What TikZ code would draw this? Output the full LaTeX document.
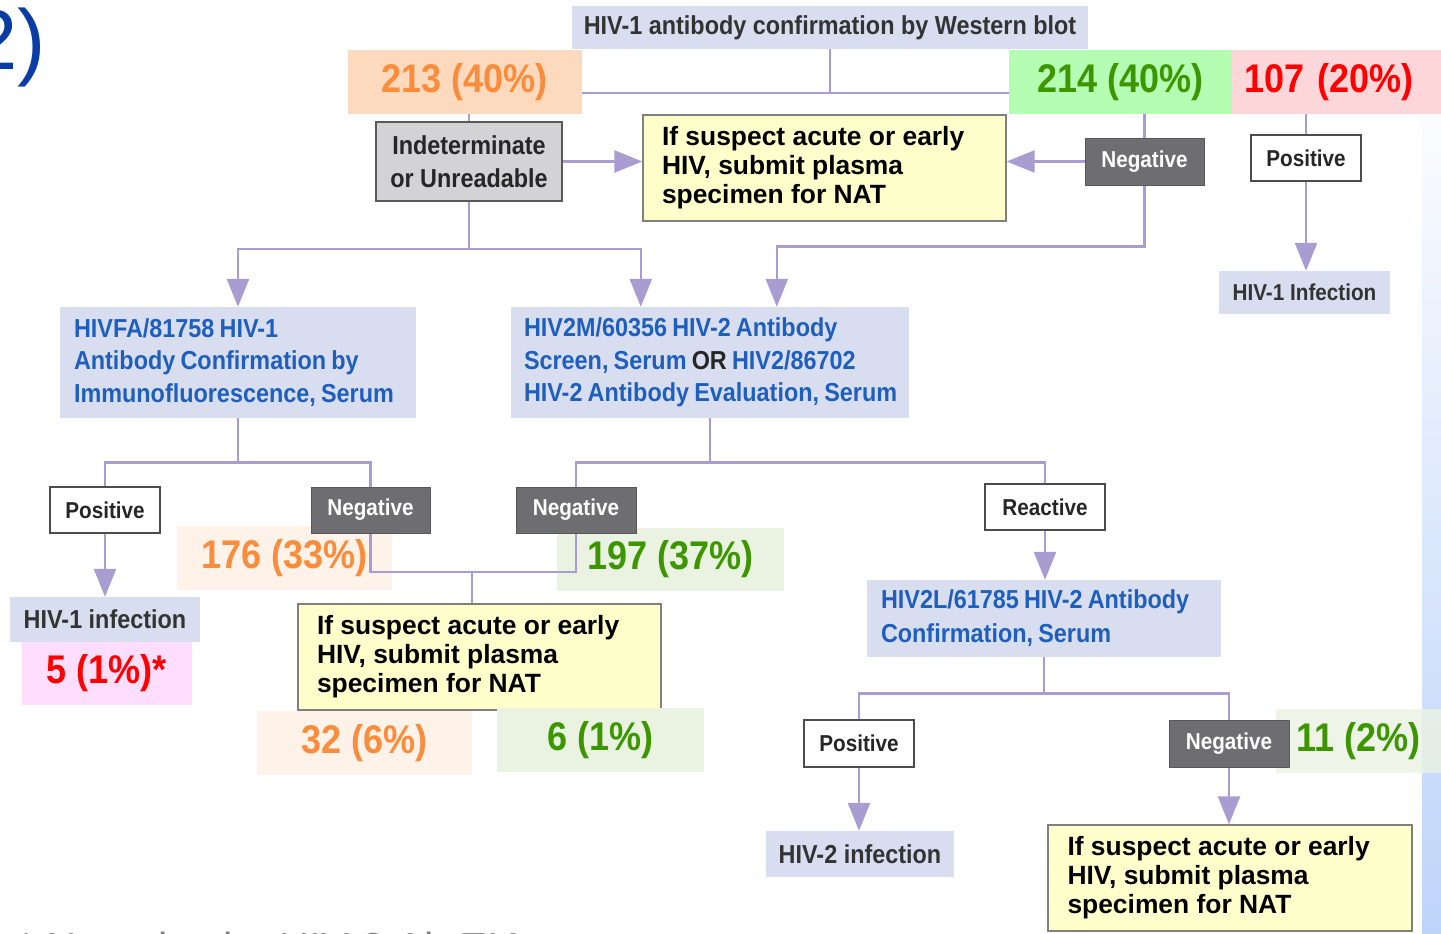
\documentclass[tikz,border=0pt]{standalone}
\usepackage{fontspec}
\setmainfont{Liberation Sans}
\newfontfamily\labelfont[FakeStretch=0.9, WordSpace=0.7]{Liberation Sans}
\newfontfamily\countfont[FakeStretch=0.9]{Liberation Sans}
\usetikzlibrary{arrows.meta, positioning, backgrounds}

\definecolor{lineviolet}{RGB}{168,156,208}
\definecolor{boxblue}{RGB}{216,222,240}
\definecolor{testblue}{RGB}{30,95,190}
\definecolor{neggray}{RGB}{110,110,114}
\definecolor{indgray}{RGB}{211,211,213}
\definecolor{natyellow}{RGB}{255,255,204}
\definecolor{natborder}{RGB}{128,128,128}
\definecolor{peachA}{RGB}{253,218,190}
\definecolor{peachB}{RGB}{255,242,232}
\definecolor{orangeT}{RGB}{250,140,60}
\definecolor{greenA}{RGB}{182,253,180}
\definecolor{greenB}{RGB}{234,243,226}
\definecolor{greenT}{RGB}{60,150,0}
\definecolor{pinkA}{RGB}{253,214,218}
\definecolor{pinkB}{RGB}{255,221,253}
\definecolor{redT}{RGB}{255,0,0}
\definecolor{titleblue}{RGB}{10,60,165}
\definecolor{stripeblue}{RGB}{190,212,250}

\begin{document}
\begin{tikzpicture}[
    x=1pt, y=-1pt,
    testbox/.style={
        fill=boxblue, text=testblue,
        align=left, inner xsep=14pt, inner ysep=0pt,
        font=\labelfont\bfseries\fontsize{26}{32.5}\selectfont,
        execute at begin node={\spaceskip=0.2em\xspaceskip=0.2em\relax}
    },
    resultbox/.style={
        fill=boxblue, text=black!80, inner sep=0pt,
        font=\labelfont\bfseries\fontsize{26}{30}\selectfont
    },
    posbox/.style={
        draw=black!70, line width=1.6pt, fill=white, text=black!85,
        inner sep=0pt,
        font=\labelfont\bfseries\fontsize{23}{28}\selectfont
    },
    negbox/.style={
        draw=neggray!80!black, line width=1pt, fill=neggray, text=white,
        inner sep=0pt,
        font=\labelfont\bfseries\fontsize{23}{28}\selectfont
    },
    natbox/.style={
        draw=natborder, line width=1.4pt, fill=natyellow,
        align=left, inner xsep=19pt, inner ysep=0pt, text width=325pt,
        font=\bfseries\fontsize{26.4}{29}\selectfont,
        execute at begin node={\spaceskip=0.278em\xspaceskip=0.278em\relax}
    },
    count/.style={inner sep=0pt, font=\countfont\bfseries\fontsize{40}{40}\selectfont},
    conn/.style={draw=lineviolet, line width=2.6pt},
    arrow/.style={conn, -{Triangle[length=28pt, width=22pt]}},
]
\useasboundingbox (0,0) rectangle (1441,934);

% Titolo e nota
\node[font=\fontsize{85}{85}\selectfont, text=titleblue, anchor=base east, inner sep=0pt]
    (part) at (46,70) {2)};
\node[font=\fontsize{42}{42}\selectfont, text=black!50, anchor=base west, inner sep=0pt]
    (foot) at (18,962) {* Negative by HIV-2 Ab EIA};

% Western blot
\node[resultbox, minimum width=516pt, minimum height=43pt] (wb) at (830,27.5)
    {HIV-1 antibody confirmation by Western blot};
\node[count, fill=peachA, text=orangeT, minimum width=234pt, minimum height=64pt]
    (c213) at (465,82) {213 (40\%)};
\node[count, fill=greenA, text=greenT, minimum width=223pt, minimum height=64pt]
    (c214) at (1120.5,82) {214 (40\%)};
\node[count, fill=pinkA, text=redT, minimum width=209pt, minimum height=64pt,
      inner xsep=12pt, text width=185pt, align=left]
    (c107) at (1336.5,82) {107 (20\%)};

\node[draw=black!65, line width=1.8pt, fill=indgray, text=black!85, align=center,
      inner sep=0pt, minimum width=186pt, minimum height=79pt,
      font=\labelfont\bfseries\fontsize{26}{33}\selectfont]
    (ind) at (469,161.5) {Indeterminate\\or Unreadable};
\node[natbox, minimum width=363pt, minimum height=106pt] (nat1) at (824.5,168)
    {If suspect acute or early\\HIV, submit plasma\\specimen for NAT};
\node[negbox, minimum width=119pt, minimum height=47pt] (neg1) at (1144.5,161.5) {Negative};
\node[posbox, minimum width=110pt, minimum height=46pt] (pos1) at (1306,158) {Positive};
\node[resultbox, minimum width=171pt, minimum height=43pt,
      font=\labelfont\bfseries\fontsize{23}{28}\selectfont]
    (inf1) at (1304.5,292.5) {HIV-1 Infection};

% Test di secondo livello
\node[testbox, text width=328pt, minimum width=356pt, minimum height=111pt] (fa) at (238,362.5)
    {HIVFA/81758 HIV-1\\Antibody Confirmation by\\Immunofluorescence, Serum};
\node[testbox, text width=388pt, minimum width=398pt, minimum height=111pt, inner xsep=5pt,
      execute at begin node={\spaceskip=0.2em\xspaceskip=0.2em\leftskip=8pt\relax}]
    (m2) at (710,362.5)
    {HIV2M/60356 HIV-2 Antibody\\Screen, Serum {\color{black!85}OR} HIV2/86702\\HIV-2 Antibody Evaluation, Serum};

\node[posbox, minimum width=110pt, minimum height=46pt] (pos2) at (105,510) {Positive};
\node[negbox, minimum width=119pt, minimum height=46pt] (neg2) at (370.5,510) {Negative};
\node[negbox, minimum width=120pt, minimum height=46pt] (neg3) at (576,510) {Negative};
\node[posbox, minimum width=120pt, minimum height=46pt] (rea) at (1045,507) {Reactive};

\node[resultbox, minimum width=190pt, minimum height=45pt] (inf2) at (105,619.5) {HIV-1 infection};
\node[count, fill=pinkB, text=redT, minimum width=170pt, minimum height=63pt]
    (c5) at (107,673.5) {5 (1\%)*};

\node[natbox, minimum width=363pt, minimum height=106pt] (nat2) at (479.5,657)
    {If suspect acute or early\\HIV, submit plasma\\specimen for NAT};
\node[count, fill=peachB, text=orangeT, minimum width=215pt, minimum height=64pt]
    (c32) at (364.5,743) {32 (6\%)};
\node[count, fill=greenB, text=greenT, minimum width=207pt, minimum height=64pt]
    (c6) at (600.5,740) {6 (1\%)};

% HIV-2
\node[testbox, text width=326pt, minimum width=354pt, minimum height=77pt,
      font=\labelfont\bfseries\fontsize{26}{34}\selectfont]
    (l2) at (1044,618.5) {HIV2L/61785 HIV-2 Antibody\\Confirmation, Serum};
\node[posbox, minimum width=110pt, minimum height=47pt] (pos3) at (859,743.5) {Positive};
\node[negbox, minimum width=120pt, minimum height=47pt] (neg4) at (1229,743.5) {Negative};
\node[resultbox, minimum width=188pt, minimum height=46pt] (inf3) at (860,854) {HIV-2 infection};
\node[natbox, minimum width=364pt, minimum height=106pt] (nat3) at (1230,878)
    {If suspect acute or early\\HIV, submit plasma\\specimen for NAT};

\begin{scope}[on background layer]
% Bordo e conteggi chiari
\shade[top color=white, bottom color=stripeblue] (1422,63) rectangle (1441,934);
\node[count, fill=peachB, text=orangeT, minimum width=215pt, minimum height=64pt]
    (c176) at (284.5,558) {176 (33\%)};
\node[count, fill=greenB, text=greenT, minimum width=227pt, minimum height=63pt]
    (c197) at (670.5,559.5) {197 (37\%)};
\node[count, fill=greenB, fill opacity=0.8, text opacity=1, text=greenT,
      minimum width=165pt, minimum height=64pt]
    (c11) at (1358.5,741) {11 (2\%)};

% Collegamenti
\coordinate (s1) at (830,93);
\draw[conn] (wb.south) -- (s1);
\draw[conn] (ind.north) |- (s1) -| (pos1.north);
\draw[conn] (s1) -| (neg1.north);
\draw[arrow] (ind.east) -- (ind.east -| nat1.west);
\draw[arrow] (neg1.west) -- (neg1.west -| nat1.east);
\draw[arrow] (pos1.south) -- (pos1.south |- inf1.north);

\draw[conn] (ind.south) -- ++(0,47) coordinate (s2);
\draw[arrow] (s2) -| (fa.north);
\draw[arrow] (s2) -| ([xshift=130pt]m2.north west);
\draw[arrow] (neg1.south) -- ++(0,61) -| ([xshift=266pt]m2.north west);

\draw[conn] (fa.south) -- ++(0,44) coordinate (s3) -| (pos2.north);
\draw[conn] (s3) -| (neg2.north);
\draw[arrow] (pos2.south) -- (pos2.south |- inf2.north);

\coordinate (s4) at (472,572);
\draw[conn] (neg2.south) |- (s4) -| (neg3.south);
\draw[conn] (s4) -- (s4 |- nat2.north);

\draw[conn] (m2.south) -- ++(0,44) coordinate (s5) -| (neg3.north);
\draw[conn] (s5) -| (rea.north);
\draw[arrow] (rea.south) -- (rea.south |- l2.north);

\draw[conn] (l2.south) -- ++(0,36) coordinate (s6) -| (pos3.north);
\draw[conn] (s6) -| (neg4.north);
\draw[arrow] (pos3.south) -- (pos3.south |- inf3.north);
\draw[arrow] (neg4.south) -- (neg4.south |- nat3.north);
\end{scope}

\end{tikzpicture}
\end{document}
